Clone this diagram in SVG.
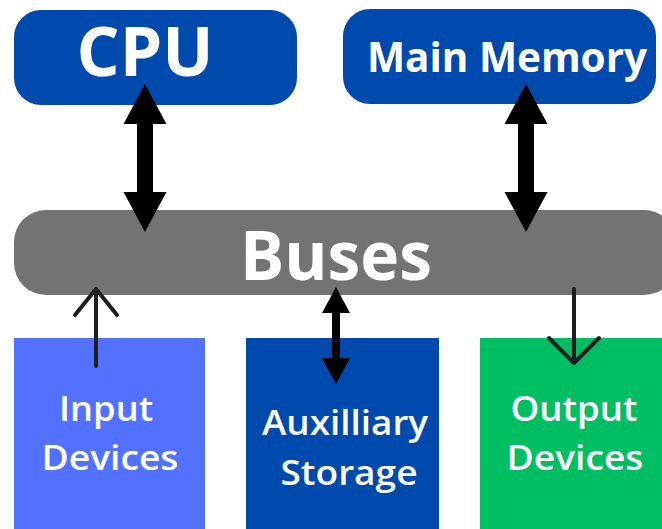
<svg xmlns="http://www.w3.org/2000/svg" width="662" height="529" viewBox="0 0 662 529">
<style>
.t{font-family:"Open Sans","Liberation Sans",sans-serif;font-weight:700;fill:#fff;text-anchor:middle}
.s{font-family:"Open Sans","Liberation Sans",sans-serif;font-weight:600;fill:#fff;text-anchor:middle;font-size:34px}
.thin{fill:none;stroke:#1e1e1e;stroke-width:4;stroke-linecap:round;stroke-linejoin:round}
</style>
<rect width="662" height="529" fill="#fff"/>
<g id="cpu">
<rect x="14" y="10" width="283" height="95" rx="27" fill="#004aad"/>
<text class="t" x="145" y="76" font-size="68" font-weight="600" textLength="137" lengthAdjust="spacingAndGlyphs">CPU</text>
</g>
<g id="main-memory">
<rect x="343" y="9" width="313" height="95" rx="27" fill="#004aad"/>
<text class="t" x="507" y="72" font-size="42" font-weight="600" textLength="280" lengthAdjust="spacingAndGlyphs">Main Memory</text>
</g>
<g id="buses">
<rect x="14" y="210" width="662" height="85" rx="32" fill="#737373"/>
<text class="t" x="336" y="280" font-size="68" font-weight="600" textLength="192" lengthAdjust="spacingAndGlyphs">Buses</text>
</g>
<g id="input-devices">
<rect x="14" y="338" width="191" height="200" fill="#5271ff"/>
<text class="s" x="106" y="421" textLength="94" lengthAdjust="spacingAndGlyphs">Input</text>
<text class="s" x="110" y="470" textLength="137" lengthAdjust="spacingAndGlyphs">Devices</text>
</g>
<g id="auxiliary-storage">
<rect x="246" y="338" width="193" height="200" fill="#004aad"/>
<text class="s" x="345" y="435" textLength="166" lengthAdjust="spacingAndGlyphs">Auxilliary</text>
<text class="s" x="349" y="485" textLength="137" lengthAdjust="spacingAndGlyphs">Storage</text>
</g>
<g id="output-devices">
<rect x="480" y="338" width="190" height="200" fill="#00bf63"/>
<text class="s" x="574" y="421" textLength="127" lengthAdjust="spacingAndGlyphs">Output</text>
<text class="s" x="575" y="470" textLength="137" lengthAdjust="spacingAndGlyphs">Devices</text>
</g>
<g id="connectors">
<polygon fill="#000" points="145,84 166.5,124 153,124 153,192 166.5,192 145,232 123.5,192 137,192 137,124 123.5,124"/>
<polygon fill="#000" points="526,84 547.5,124 534,124 534,192 547.5,192 526,232 504.5,192 518,192 518,124 504.5,124"/>
<polygon fill="#000" points="336,287 350,313 340,313 340,358 350,358 336,384 322,358 332,358 332,313 322,313"/>
<path class="thin" d="M96,366 V289 M75,315 L96,289 L117,315"/>
<path class="thin" stroke-width="5" d="M574,289 V363 M549,338 L574,363 L599,338"/>
</g>
</svg>
